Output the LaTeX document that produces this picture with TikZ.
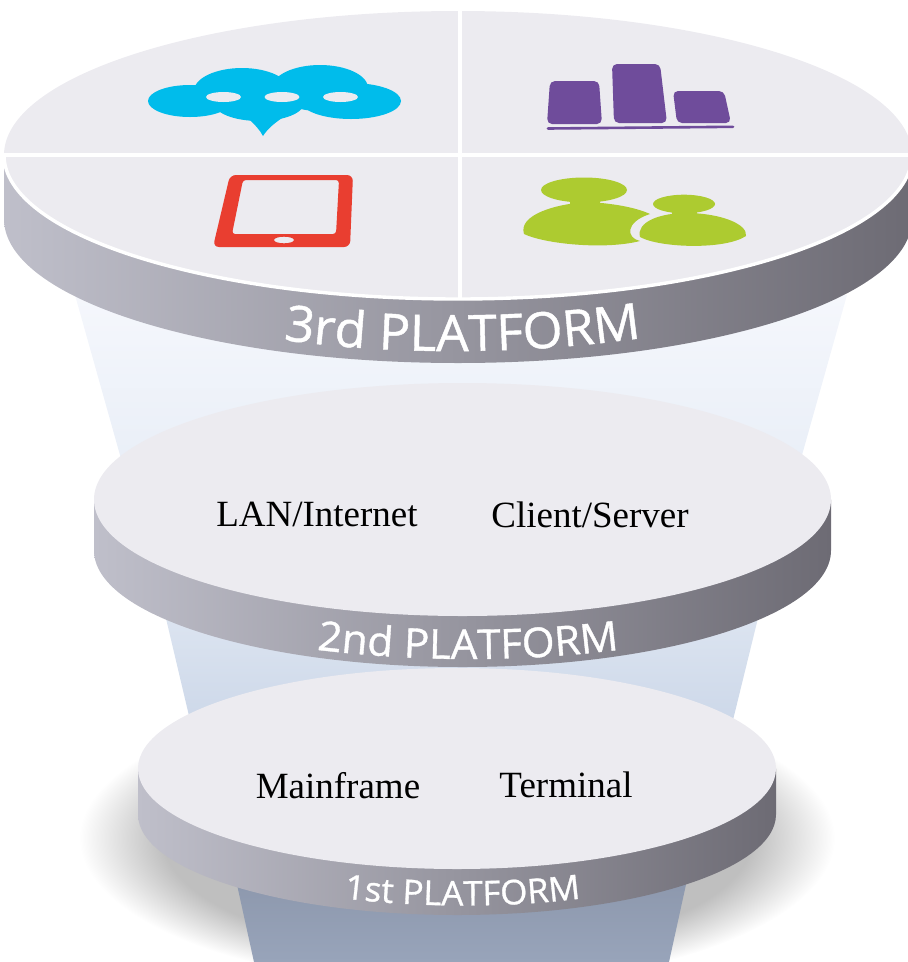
\documentclass[tikz,border=0pt]{standalone}
\usepackage{fontspec}
\usetikzlibrary{decorations.text}
\setmainfont{Liberation Serif}
\newfontfamily\bandfont[FakeStretch=1.03,FakeBold=0.9]{Open Sans}
\definecolor{diskgray}{HTML}{ECEBF0}
\definecolor{bandleft}{HTML}{BFBFCA}
\definecolor{bandmid}{HTML}{9A98A4}
\definecolor{bandright}{HTML}{6D6B74}
\definecolor{chatblue}{HTML}{00BCEB}
\definecolor{barpurple}{HTML}{6F4C9B}
\definecolor{phonered}{HTML}{E93E30}
\definecolor{usergreen}{HTML}{ADCB30}
\definecolor{coneatop}{HTML}{F5F7FC}
\definecolor{coneabot}{HTML}{E8EEF7}
\definecolor{conebtop}{HTML}{DDE5F1}
\definecolor{conebbot}{HTML}{CDD8E9}
\definecolor{conectop}{HTML}{8D98AD}
\definecolor{conecbot}{HTML}{98A4BA}
\pgfdeclareradialshading{floorshadow}{\pgfpoint{0bp}{0bp}}{color(0bp)=(black!27); color(19.5bp)=(black!25); color(25bp)=(white); color(50bp)=(white)}
\tikzstyle{band} = [left color=bandleft, middle color=bandmid, right color=bandright]
\tikzstyle{disktop} = [fill=diskgray]
\tikzstyle{cutline} = [draw=white, line width=3.4pt]
\tikzstyle{serieslabel} = [font=\fontsize{37}{37}\selectfont, inner sep=0pt]
\tikzstyle{curvelabel} = [decorate, decoration={text along path, text color=white, text align=center}]

\begin{document}
\begin{tikzpicture}[x=1pt,y=-1pt]
  \useasboundingbox (0,0) rectangle (908,962);

  % floor shadow and the three cones
  \path[shading=floorshadow] (457,838) ellipse [x radius=378pt, y radius=148pt];
  \shade[top color=coneatop, bottom color=coneabot] (75,295) -- (847,295) -- (795,480) -- (127,480) -- cycle;
  \shade[top color=conebtop, bottom color=conebbot] (164,610) -- (760,610) -- (733,720) -- (190,720) -- cycle;
  \shade[top color=conectop, bottom color=conecbot] (236,880) -- (687,880) -- (669,962) -- (254,962) -- cycle;

  % the disks
  \foreach \cx/\cy/\rx/\ry/\dep in {458/155/454/144/64, 462.5/499.5/368.5/116.5/51, 457/768.5/319/100.5/46} {
    \path[band] (\cx-\rx,\cy) -- ++(0,\dep) arc[start angle=180,end angle=360,x radius=\rx pt,y radius=\ry pt] -- ++(0,-\dep) -- cycle;
    \path[disktop] (\cx,\cy) ellipse [x radius=\rx pt, y radius=\ry pt];
  }

  % quarters of the top disk
  \draw[cutline] (4,155) arc[start angle=180,end angle=360,x radius=454pt,y radius=144pt];
  \draw[cutline] (4,155) -- (908,155);
  \draw[cutline] (460,10) -- (460,298);

  % chat cloud
  \begin{scope}[fill=chatblue]
    \fill (190,101) ellipse [x radius=42pt, y radius=16pt];
    \fill (242,91) ellipse [x radius=48pt, y radius=23pt];
    \fill (320,88) ellipse [x radius=48pt, y radius=23pt];
    \fill (351,101) ellipse [x radius=50pt, y radius=18pt];
    \fill (259,103) ellipse [x radius=45pt, y radius=18pt];
    \fill (248,118) .. controls (255,125) and (260,130) .. (263,136) .. controls (268,128) and (276,122) .. (285,116) -- cycle;
  \end{scope}
  \foreach \hx in {223.5,282,340.5}
    \fill[diskgray] (\hx,97) ellipse [x radius=17.5pt, y radius=5pt];

  % bars
  \begin{scope}[fill=barpurple, rounded corners=5pt]
    \fill (550,81) -- (599,81) -- (602,124) -- (547,124) -- cycle;
    \fill (612,64) -- (660,64) -- (667,123) -- (614,123) -- cycle;
    \fill (673,91) -- (724,91) -- (731,123) -- (677,123) -- cycle;
  \end{scope}
  \draw[barpurple, line width=2.6pt, line cap=round] (548,128.5) -- (733,126.8);

  % tablet
  \fill[phonered, even odd rule]
    [rounded corners=6pt] (230,175) -- (353,175) -- (350,247) -- (213,247) -- cycle
    [rounded corners=3pt] (243,180) -- (339,180) -- (336,234) -- (232,234) -- cycle
    [sharp corners] (284,240) ellipse [x radius=10pt, y radius=3.3pt];

  % users
  \begin{scope}[fill=usergreen]
    \fill (584,190) ellipse [x radius=43pt, y radius=12.5pt];
    \fill (570,198) rectangle (600,206);
    \fill (587,202) .. controls (555,204) and (518,215) .. (524,234) .. controls (545,244) and (605,250) .. (640,241) .. controls (626,238) and (625,222) .. (650,214) .. controls (635,207) and (610,203) .. cycle;
    \fill (684,204) ellipse [x radius=31pt, y radius=9.3pt];
    \fill (672,210) rectangle (697,216);
    \fill (686,213) .. controls (660,213) and (636,222) .. (640,237) .. controls (660,248) and (725,250) .. (746,236) .. controls (748,224) and (720,213) .. cycle;
  \end{scope}

  % texts on the top faces
  \node[serieslabel] (lan)    at (317,514) {LAN/Internet};
  \node[serieslabel] (client) at (590,515) {Client/Server};
  \node[serieslabel] (main)   at (338,786) {Mainframe};
  \node[serieslabel] (term)   at (566,785) {Terminal};

  % texts on the bands
  \path[curvelabel, decoration={text={|\fontsize{50}{50}\selectfont\bandfont|3rd PLATFORM}}] (284,340) .. controls (400,356) and (530,354) .. (641,338);
  \path[curvelabel, decoration={text={|\fontsize{41}{41}\selectfont\bandfont|2nd PLATFORM}}] (319,650) .. controls (420,662) and (520,662) .. (617,650);
  \path[curvelabel, decoration={text={|\fontsize{34}{34}\selectfont\bandfont|1st PLATFORM}}] (341,898) .. controls (420,908) and (510,908) .. (584,898);
\end{tikzpicture}
\end{document}
